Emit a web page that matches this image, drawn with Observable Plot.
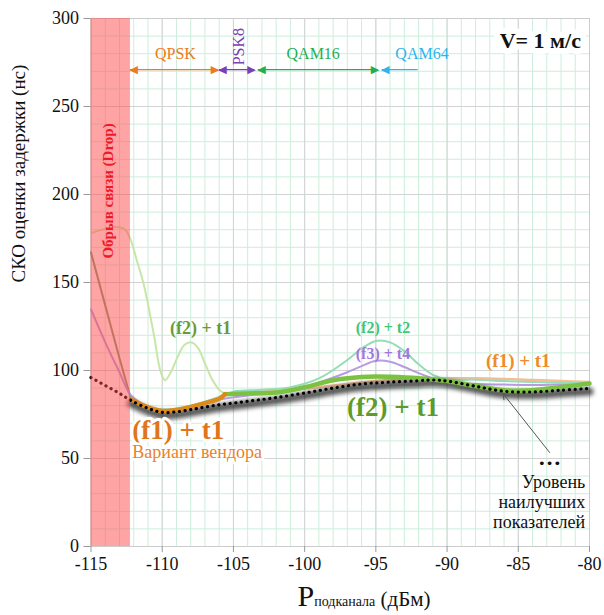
<!DOCTYPE html>
<html><head><meta charset="utf-8">
<script src="https://cdn.jsdelivr.net/npm/d3@7"></script>
<script src="https://cdn.jsdelivr.net/npm/@observablehq/plot@0.6"></script>
<style>
body{margin:0;background:#fff}
svg text{font-family:"Liberation Serif", serif}
svg text.glyph{font-family:"DejaVu Sans", sans-serif}
</style></head><body><div id="chart"></div>
<script>
// ---- axes / ticks
const xTicks = [-115,-110,-105,-100,-95,-90,-85,-80];
const yTicks = [0,50,100,150,200,250,300];
const xMinor = d3.range(-115,-79,1);
const yMinor = d3.range(0,301,10);
const dropZone = [-115,-112.23];

// ---- series [P, СКО]
const best = [[-115,96],[-114,91.5],[-113,87],[-112.2,83],[-111,78.5],[-110,76.2],[-109,76.5],[-108,77.8],[-107,79.2],[-106,80.5],[-105,81.5],[-104,82.5],[-102,84.6],[-100,87.2],[-98,90],[-96,92.3],[-94,93.4],[-92,94.2],[-91,94.6],[-90,94],[-88,91],[-86,88.2],[-84,87.8],[-82,88.8],[-80,89.8]];
const f2t1Drop = [[-115,167],[-114,137],[-113,107],[-112.2,84]];
const f1t1Thin = [[-105.6,86.8],[-104,87.8],[-102,88.5],[-100,89.8],[-98,91.5],[-96,93.2],[-94,94.6],[-92,95.3],[-90,95.6],[-88,95.6],[-86,95.2],[-84,94.6],[-82,94],[-80,93.5]];
const f1t1Thick = [[-112.2,83.5],[-111,79],[-110,77],[-109,77.5],[-108,79.3],[-107,81.5],[-106,84],[-105.6,86.5]];
const f2t1Thick = [[-105.6,86.5],[-104,87],[-102,87.5],[-100,90.5],[-98,94.5],[-96,96.3],[-95,96.6],[-94,96.4],[-92,95.6],[-91,94.9],[-90,94],[-88,91.2],[-86,88.8],[-84,88.8],[-82,90.6],[-80,92.6]];
const f2t1Pale = [[-115,178],[-114,180.5],[-113.2,181.5],[-112.6,180],[-112.2,174],[-111.8,163],[-111.3,149],[-110.6,121],[-110.1,99],[-109.8,94.5],[-109.4,99],[-108.9,108],[-108.5,114],[-108,116],[-107.5,113],[-107,104],[-106.5,95],[-106,89],[-105.6,86.8]];
const f2t2 = [[-112.2,84],[-111,79.5],[-110,77.8],[-108,80],[-106,85],[-105,88],[-103,89],[-101,90.5],[-99,95.5],[-97,106],[-96,112.5],[-95,116.8],[-94,116],[-93,111],[-92,103.5],[-91,97.5],[-90,95],[-88,94.8],[-86,94],[-84,93.5],[-82,93],[-80,92.8]];
const f3t4 = [[-115,134.7],[-114,116],[-113,99],[-112.2,86],[-111,79.5],[-110,77.5],[-108,79.5],[-106,83.5],[-104,85.8],[-102,87.5],[-100,90.5],[-98,96],[-97,99],[-96,102.5],[-95,105.5],[-94,105],[-93,102],[-92,98.5],[-91,95.5],[-90,93.2],[-88,92.3],[-86,92],[-84,91.8],[-82,92.2],[-80,92.8]];

// ---- modulation ranges
const mods = ["QPSK","PSK8","QAM16","QAM64"];
const modStart = [-112.23,-105.99,-103.25,-94.56];
const modEnd = [-106.06,-103.5,-94.84,-92.03];
const modLabelX = [-109.07,-104.6,-99.4,-91.76];
const modColor = ["#ec7a22","#7b3fb2","#1fae52","#2bb5ee"];
const modLevel = 271, modLabelLevel = 280;

const X = d => d[0], Y = d => d[1];
const cr = "catmull-rom";
const SERIF = "Liberation Serif, serif";
const SHADOW = "#121212";

const modMarks = mods.flatMap((m,i) => {
  const arr = [
    Plot.ruleY([modLevel], {x1: modStart[i], x2: modEnd[i], stroke: modColor[i], strokeWidth: 1.3}),
    Plot.text(["◀"], {x: modStart[i], y: modLevel, text: d=>d, textAnchor: "start", fill: modColor[i], fontSize: 11, dx: -1})
  ];
  if (i < 3) arr.push(Plot.text(["▶"], {x: modEnd[i], y: modLevel, text: d=>d, textAnchor: "end", fill: modColor[i], fontSize: 11, dx: 1}));
  arr.push(i === 1
    ? Plot.text([m], {x: modLabelX[i], y: 284, text: d=>d, rotate: -90, fill: modColor[i], fontSize: 16})
    : Plot.text([m], {x: modLabelX[i], y: modLabelLevel, text: d=>d, fill: modColor[i], fontSize: 16}));
  return arr;
});

const chart = Plot.plot({
  width: 604, height: 615,
  marginLeft: 90.5, marginRight: 15, marginTop: 18, marginBottom: 69,
  style: "font-family: 'Liberation Serif', serif; font-size: 17px; color: #111; background: #fff; overflow: visible;",
  x: {domain: [-115,-80]},
  y: {domain: [0,300]},
  marks: [
    Plot.ruleX(xMinor, {stroke: "#cdeedc"}),
    Plot.ruleY(yMinor, {stroke: "#cdeedc"}),
    Plot.ruleX(xTicks, {stroke: "#d3d3d3"}),
    Plot.ruleY(yTicks, {stroke: "#d3d3d3"}),
    Plot.frame({stroke: "#cccccc"}),
    Plot.axisX(xTicks, {tickFormat: d => String(d), tickSize: 6, tickPadding: 5, fontSize: 18, stroke: "#999", label: null}),
    Plot.axisY(yTicks, {tickFormat: d => String(d), tickSize: 7, tickPadding: 5, fontSize: 18, stroke: "#999", label: null}),
    Plot.line(f2t1Drop, {x: X, y: Y, stroke: "#6f8c5c", strokeWidth: 2, strokeOpacity: 0.85, curve: cr}),
    Plot.line(f1t1Thin, {x: X, y: Y, stroke: "#f5b58a", strokeWidth: 2.5, strokeOpacity: 0.9, curve: cr}),
    Plot.line(f3t4, {x: X, y: Y, stroke: "#b99be2", strokeWidth: 2, curve: cr}),
    Plot.line(f2t2, {x: X, y: Y, stroke: "#96dcb7", strokeWidth: 2, curve: cr}),
    Plot.line(f2t1Pale, {x: X, y: Y, stroke: "#c8e6a8", strokeWidth: 2, curve: cr}),
    Plot.line(best.filter(d => d[0] >= -112.2), {x: X, y: Y, stroke: SHADOW, strokeWidth: 8, strokeOpacity: 0.7, dy: 3, curve: cr}),
    Plot.line(f2t1Thick, {x: X, y: Y, stroke: "#7cc242", strokeWidth: 4.5, curve: cr}),
    Plot.line(f1t1Thick, {x: X, y: Y, stroke: "#dd8a1c", strokeWidth: 4.5, curve: cr}),
    Plot.line(best, {x: X, y: Y, stroke: "#000", strokeWidth: 3.2, strokeDasharray: "0.1 5.6", strokeLinecap: "round", curve: cr}),
    Plot.rect([dropZone], {x1: d => d[0], x2: d => d[1], fill: "#ff4a4a", fillOpacity: 0.5}),
    Plot.text(["Обрыв связи (Drop)"], {x: -113.77, y: 202, text: d=>d, rotate: -90, fill: "#f0182a", fontWeight: "bold", fontSize: 15}),
    ...modMarks,
    Plot.text(["V= 1 м/с"], {x: -80.6, y: 287.5, text: d=>d, textAnchor: "end", fontWeight: "bold", fontSize: 22, fill: "#111", stroke: "#fff", strokeWidth: 12}),
    Plot.text(["(f2) + t1"], {x: -107.3, y: 124, text: d=>d, fill: "#6b9a34", fontWeight: "bold", fontSize: 18}),
    Plot.text(["(f1) + t1"], {x: -112.1, y: 66, text: d=>d, textAnchor: "start", fill: "#e0761c", fontWeight: "bold", fontSize: 27, stroke: "#fff", strokeWidth: 6}),
    Plot.text(["Вариант вендора"], {x: -112.1, y: 53.4, text: d=>d, textAnchor: "start", fill: "#e8822a", fontSize: 18, stroke: "#fff", strokeWidth: 5}),
    Plot.text(["(f2) + t1"], {x: -93.8, y: 79, text: d=>d, fill: "#5d9b2c", fontWeight: "bold", fontSize: 27}),
    Plot.text(["(f2) + t2"], {x: -94.5, y: 124, text: d=>d, fill: "#3cc877", fontWeight: "bold", fontSize: 16}),
    Plot.text(["(f3) + t4"], {x: -94.5, y: 109.7, text: d=>d, fill: "#a576e0", fontWeight: "bold", fontSize: 16}),
    Plot.text(["(f1) + t1"], {x: -85.0, y: 105.7, text: d=>d, fill: "#f08a2c", fontWeight: "bold", fontSize: 19}),
    Plot.arrow([0], {x1: -82.8, y1: 53.4, x2: -86.07, y2: 86.9, stroke: "#555", strokeWidth: 1, headLength: 9}),
    Plot.text(["•••"], {x: -82.8, y: 47, text: d=>d, fill: "#111", fontSize: 13}),
    Plot.text(["Уровень","наилучших","показателей"], {x: -80.3, y: (d,i) => [36.4,25,13.6][i], text: d=>d, textAnchor: "end", fill: "#111", fontSize: 18}),
    Plot.text(["СКО оценки задержки (нс)"], {frameAnchor: "left", dx: -72, rotate: -90, text: d=>d, fontSize: 19, fill: "#111"})
  ]
});
document.getElementById("chart").appendChild(chart);
const svg = d3.select(chart);
svg.selectAll("text").filter(function() { return /[◀▶•]/.test(this.textContent); }).classed("glyph", true);
svg.selectAll(`g[stroke="${SHADOW}"]`).style("filter", "blur(2px)");
const xt = svg.append("text").attr("x", 364).attr("y", 606).attr("text-anchor", "middle").attr("fill", "#111");
xt.append("tspan").attr("font-size", 30).text("P");
xt.append("tspan").attr("font-size", 14).text("подканала");
xt.append("tspan").attr("font-size", 21).text(" (дБм)");
</script></body></html>
